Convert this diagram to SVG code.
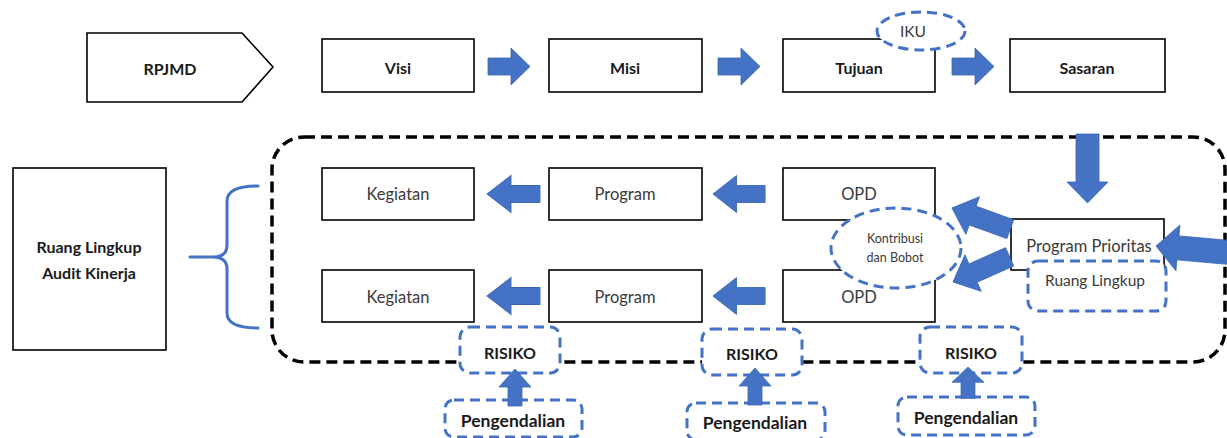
<svg xmlns="http://www.w3.org/2000/svg" width="1227" height="438" viewBox="0 0 1227 438">
  <defs>
    <style>
      .box { fill: #fff; stroke: #000; stroke-width: 1.6; }
      .bdash { fill: #fff; stroke: #4472C4; stroke-width: 3; stroke-dasharray: 10 6; }
      .frame { fill: none; stroke: #000; stroke-width: 3.5; stroke-dasharray: 11 6; }
      .arrow { fill: #4472C4; stroke: #3b66b3; stroke-width: 0.8; }
      .brace { fill: none; stroke: #4472C4; stroke-width: 3; stroke-linecap: round; }
      text { font-family: Lato, "Open Sans", "Liberation Sans", sans-serif; text-anchor: middle; dominant-baseline: central; }
      .lb { font-size: 16px; font-weight: bold; fill: #1a1a1a; }
      .lr { font-size: 16px; font-weight: bold; fill: #1a1a1a; }
      .lp { font-size: 17.5px; font-weight: bold; fill: #1a1a1a; }
      .ln { font-size: 16.5px; fill: #3a3a3a; }
      .lm { font-size: 15.5px; fill: #3a3a3a; }
      .ls { font-size: 12.5px; fill: #3a3a3a; }
    </style>
    <!-- block arrow pointing right, tip at origin -->
    <polygon id="arr" points="0,0 -19,-18.5 -19,-8.5 -42,-8.5 -42,8.5 -19,8.5 -19,18.5"/>
    <polygon id="arrL" points="0,0 -22,-20 -22,-10 -62,-10 -62,10 -22,10 -22,20"/>
    <polygon id="arrUp" points="0,0 16,18 7,18 7,37 -7,37 -7,18 -16,18"/>
  </defs>

  <!-- dashed scope frame -->
  <rect class="frame" x="272" y="137" width="953" height="225" rx="32"/>

  <!-- top row -->
  <g id="rpjmd">
    <polygon class="box" points="87,33 242,33 273,67 242,102 87,102"/>
    <text class="lb" x="170" y="68">RPJMD</text>
  </g>
  <g id="visi">
    <rect class="box" x="322" y="39" width="152" height="53"/>
    <text class="lb" x="398" y="67">Visi</text>
  </g>
  <g id="misi">
    <rect class="box" x="549" y="39" width="153" height="53"/>
    <text class="lb" x="625" y="67">Misi</text>
  </g>
  <g id="tujuan">
    <rect class="box" x="783" y="39" width="152" height="53"/>
    <text class="lb" x="859" y="67">Tujuan</text>
  </g>
  <g id="iku">
    <ellipse class="bdash" cx="921" cy="31" rx="44" ry="19"/>
    <text class="lm" x="913" y="31">IKU</text>
  </g>
  <g id="sasaran">
    <rect class="box" x="1010" y="39" width="155" height="53"/>
    <text class="lb" x="1087" y="67">Sasaran</text>
  </g>

  <!-- left scope label -->
  <g id="ruang-lingkup-audit">
    <rect class="box" x="13" y="168" width="153" height="182"/>
    <text class="lb" x="89" y="246">Ruang Lingkup</text>
    <text class="lb" x="89" y="272">Audit Kinerja</text>
  </g>
  <g id="brace">
    <path class="brace" d="M258,186 Q227,186 227,201 L227,245 Q227,257 213,257 L190,257 M213,257 Q227,257 227,269 L227,313 Q227,328 258,328"/>
  </g>

  <!-- middle rows -->
  <g id="kegiatan-1">
    <rect class="box" x="322" y="168" width="152" height="52"/>
    <text class="ln" x="398" y="194">Kegiatan</text>
  </g>
  <g id="program-1">
    <rect class="box" x="549" y="168" width="153" height="52"/>
    <text class="ln" x="625" y="194">Program</text>
  </g>
  <g id="opd-1">
    <rect class="box" x="783" y="168" width="152" height="52"/>
    <text class="ln" x="859" y="194">OPD</text>
  </g>
  <g id="kegiatan-2">
    <rect class="box" x="322" y="270" width="152" height="52"/>
    <text class="ln" x="398" y="297">Kegiatan</text>
  </g>
  <g id="program-2">
    <rect class="box" x="549" y="270" width="153" height="52"/>
    <text class="ln" x="625" y="297">Program</text>
  </g>
  <g id="opd-2">
    <rect class="box" x="783" y="270" width="152" height="52"/>
    <text class="ln" x="859" y="297">OPD</text>
  </g>
  <g id="kontribusi">
    <ellipse class="bdash" cx="896" cy="248" rx="65" ry="40"/>
    <text class="ls" x="895" y="238">Kontribusi</text>
    <text class="ls" x="895" y="257">dan Bobot</text>
  </g>
  <g id="program-prioritas">
    <rect class="box" x="1011" y="219" width="153" height="51"/>
    <text class="ln" x="1089" y="246">Program Prioritas</text>
  </g>
  <g id="ruang-lingkup">
    <rect class="bdash" x="1028" y="261" width="138" height="50" rx="10"/>
    <text class="lm" x="1095" y="280">Ruang Lingkup</text>
  </g>

  <!-- risks and controls -->
  <g id="risiko-1">
    <rect class="bdash" x="460" y="327" width="100" height="46" rx="10"/>
    <text class="lr" x="510" y="352">RISIKO</text>
  </g>
  <g id="risiko-2">
    <rect class="bdash" x="702" y="329" width="100" height="46" rx="10"/>
    <text class="lr" x="752" y="353">RISIKO</text>
  </g>
  <g id="risiko-3">
    <rect class="bdash" x="920" y="327" width="102" height="46" rx="10"/>
    <text class="lr" x="971" y="352">RISIKO</text>
  </g>
  <g id="pengendalian-1">
    <rect class="bdash" x="445" y="400" width="137" height="37" rx="9"/>
    <text class="lp" x="513" y="420">Pengendalian</text>
  </g>
  <g id="pengendalian-2">
    <rect class="bdash" x="687" y="403" width="138" height="37" rx="9"/>
    <text class="lp" x="755" y="422">Pengendalian</text>
  </g>
  <g id="pengendalian-3">
    <rect class="bdash" x="898" y="397" width="137" height="38" rx="9"/>
    <text class="lp" x="966" y="417">Pengendalian</text>
  </g>

  <!-- connectors -->
  <g id="connectors">
    <use href="#arr" class="arrow" transform="translate(530,66.5)"/>
    <use href="#arr" class="arrow" transform="translate(760,66.5)"/>
    <use href="#arr" class="arrow" transform="translate(994,66.5)"/>

    <use href="#arr" class="arrow" transform="translate(487,194) scale(1.26,1) rotate(180)"/>
    <use href="#arr" class="arrow" transform="translate(713,194) scale(1.24,1) rotate(180)"/>
    <use href="#arr" class="arrow" transform="translate(487,296) scale(1.26,1) rotate(180)"/>
    <use href="#arr" class="arrow" transform="translate(713,296) scale(1.24,1) rotate(180)"/>

    <!-- Sasaran down to Program Prioritas -->
    <polygon class="arrow" points="1076,134 1099,134 1099,182 1108,182 1087.5,203 1067,182 1076,182"/>

    <!-- Program Prioritas to OPD rows -->
    <use href="#arrL" class="arrow" transform="translate(952,208) rotate(200)"/>
    <use href="#arrL" class="arrow" transform="translate(953,282) rotate(156)"/>

    <!-- incoming from the right -->
    <polygon class="arrow" transform="translate(1156,246) rotate(185)" points="0,0 -22,-23 -22,-12 -95,-12 -95,12 -22,12 -22,23"/>

    <!-- controls up to risks -->
    <use href="#arrUp" class="arrow" transform="translate(515,369)"/>
    <use href="#arrUp" class="arrow" transform="translate(755,368)"/>
    <use href="#arrUp" class="arrow" transform="translate(968,367) scale(1,0.85)"/>
  </g>
</svg>
